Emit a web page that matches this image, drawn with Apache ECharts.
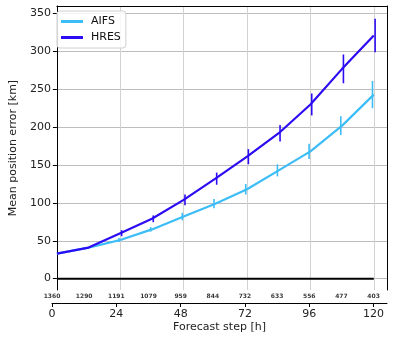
<!DOCTYPE html>
<html>
<head>
<meta charset="utf-8">
<script src="https://cdn.jsdelivr.net/npm/echarts@6/dist/echarts.min.js"></script>
<style>
html, body { margin: 0; padding: 0; background: #fff; }
#main { width: 409px; height: 337px; }
</style>
</head>
<body>
<div id="main"></div>
<script>
// forecast steps [h]
var steps = [0, 12, 24, 36, 48, 60, 72, 84, 96, 108, 120];
var aifs = [33, 41, 51, 65, 82, 99, 118, 143, 168, 202, 243];
var hres = [33, 41, 60, 79, 104, 132, 161, 192, 230, 277, 321];
var aifsErr = [0, 0, 2.5, 3, 5, 6, 7, 8, 10, 12.5, 18];
var hresErr = [0, 0, 4, 4.5, 7, 8, 10, 11, 14.5, 19, 22];
var counts = [1360, 1290, 1191, 1079, 959, 844, 732, 633, 556, 477, 403];
var yTicks = [0, 50, 100, 150, 200, 250, 300, 350];

var AIFS_COLOR = '#3cbdf7';
var HRES_COLOR = '#2c0cf2';
var FONT = 'DejaVu Sans';

function pairs(xs, ys) {
    var r = [];
    for (var i = 0; i < xs.length; i++) {
        r.push([xs[i], ys[i]]);
    }
    return r;
}

function errSeries(name, vals, errs, color, dx) {
    var d = [];
    for (var i = 0; i < steps.length; i++) {
        if (errs[i] > 0)
            d.push([steps[i] + dx, vals[i] - errs[i], vals[i] + errs[i]]);
    }
    return {
        name: name,
        type: 'custom',
        xAxisIndex: 0,
        yAxisIndex: 0,
        data: d,
        encode: { x: 0, y: [1, 2] },
        z: 4,
        renderItem: function (params, api) {
            var p1 = api.coord([api.value(0), api.value(1)]);
            var p2 = api.coord([api.value(0), api.value(2)]);
            return {
                type: 'line',
                shape: { x1: p1[0], y1: p1[1], x2: p2[0], y2: p2[1] },
                style: { stroke: color, lineWidth: 1.6 }
            };
        }
    };
}

function render() {
    var myChart = echarts.init(document.getElementById('main'), null, { renderer: 'canvas' });

    var countPts = [];
    for (var i = 0; i < steps.length; i++) {
        countPts.push([steps[i], 0.5, counts[i]]);
    }

    var option = {
        animation: false,
        backgroundColor: '#fff',
        textStyle: { fontFamily: FONT },
        grid: [
            { left: 52, right: 22, top: 6, height: 284 },
            { left: 52, right: 22, top: 290, height: 13 }
        ],
        legend: {
            data: ['AIFS', 'HRES'],
            orient: 'vertical',
            left: 57,
            top: 11,
            icon: 'rect',
            itemWidth: 22,
            itemHeight: 3,
            itemGap: 5,
            padding: [5, 5, 5, 4],
            borderColor: '#d0d0d0',
            borderWidth: 1,
            borderRadius: 3,
            backgroundColor: 'rgba(255,255,255,0.85)',
            textStyle: { fontFamily: FONT, fontSize: 11, color: '#111', padding: [0, 0, 0, 3] }
        },
        xAxis: [
            {
                gridIndex: 0, type: 'value', min: 0, max: 125, interval: 24,
                axisLine: { show: false }, axisTick: { show: false }, axisLabel: { show: false },
                splitLine: { show: true, lineStyle: { color: '#d2d2d2', width: 1 } }
            },
            {
                gridIndex: 0, type: 'value', position: 'top', min: 0, max: 125,
                axisLine: { show: true, onZero: false, lineStyle: { color: '#000', width: 1 } },
                axisTick: { show: false }, axisLabel: { show: false }, splitLine: { show: false }
            },
            {
                gridIndex: 1, type: 'value', min: 0, max: 125, interval: 24,
                name: 'Forecast step [h]', nameLocation: 'middle', nameGap: 19,
                nameTextStyle: { fontFamily: FONT, fontSize: 11, color: '#222' },
                axisLine: { show: true, onZero: false, lineStyle: { color: '#000', width: 1 } },
                axisTick: { show: true, length: 4, lineStyle: { color: '#000' } },
                axisLabel: { fontFamily: FONT, fontSize: 11, color: '#222', margin: 6, showMaxLabel: false },
                splitLine: { show: false }
            }
        ],
        yAxis: [
            {
                gridIndex: 0, type: 'value', min: -15, max: 360,
                name: 'Mean position error [km]', nameLocation: 'middle', nameGap: 27,
                nameTextStyle: { fontFamily: FONT, fontSize: 11, color: '#222' },
                axisLine: { show: true, onZero: false, lineStyle: { color: '#000', width: 1 } },
                axisTick: { show: true, length: 4, customValues: yTicks, lineStyle: { color: '#000' } },
                axisLabel: { fontFamily: FONT, fontSize: 11, color: '#222', margin: 6, customValues: yTicks },
                splitLine: { show: true, lineStyle: { color: '#bdbdbd', width: 1 } }
            },
            {
                gridIndex: 0, type: 'value', position: 'right', min: -15, max: 360,
                axisLine: { show: true, onZero: false, lineStyle: { color: '#000', width: 1 } },
                axisTick: { show: false }, axisLabel: { show: false }, splitLine: { show: false }
            },
            {
                gridIndex: 1, type: 'value', min: 0, max: 1, show: false
            }
        ],
        series: [
            {
                name: 'zero', type: 'line', xAxisIndex: 0, yAxisIndex: 0,
                data: [[0, 0], [120, 0]], symbol: 'none', silent: true,
                lineStyle: { color: '#000', width: 2 }, z: 2
            },
            {
                name: 'AIFS', type: 'line', xAxisIndex: 0, yAxisIndex: 0,
                data: pairs(steps, aifs), symbol: 'none', color: AIFS_COLOR,
                lineStyle: { color: AIFS_COLOR, width: 2.2 }, z: 3
            },
            {
                name: 'HRES', type: 'line', xAxisIndex: 0, yAxisIndex: 0,
                data: pairs(steps, hres), symbol: 'none', color: HRES_COLOR,
                lineStyle: { color: HRES_COLOR, width: 2.2 }, z: 3
            },
            errSeries('AIFS err', aifs, aifsErr, AIFS_COLOR, -0.5),
            errSeries('HRES err', hres, hresErr, HRES_COLOR, 0.5),
            {
                name: 'counts', type: 'scatter', xAxisIndex: 2, yAxisIndex: 2,
                data: countPts, symbolSize: 0, silent: true,
                label: {
                    show: true, position: 'inside', color: '#000',
                    fontFamily: FONT, fontSize: 6, fontWeight: 'bold',
                    formatter: function (p) { return p.value[2]; }
                }
            }
        ]
    };

    myChart.setOption(option);
}

render();
</script>
</body>
</html>
